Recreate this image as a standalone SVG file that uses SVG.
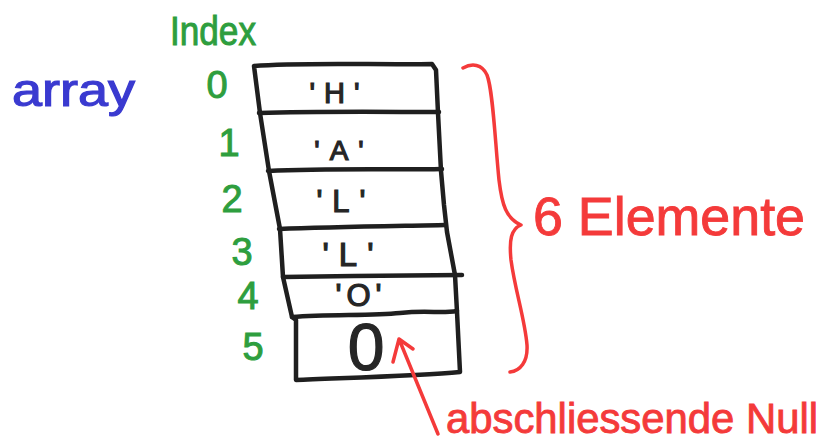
<svg xmlns="http://www.w3.org/2000/svg" width="829" height="448" viewBox="0 0 829 448">
  <style>
    .frame { fill: none; stroke: #1f1f1f; stroke-width: 4.5; stroke-linecap: round; stroke-linejoin: round; }
    .cell  { font-family: "Liberation Sans", "DejaVu Sans", sans-serif; fill: #262626; stroke: #262626; stroke-width: 1.2; text-anchor: middle; }
    .idx   { font-family: "Liberation Sans", "DejaVu Sans", sans-serif; fill: #2e9e3e; stroke: #2e9e3e; stroke-width: 1; font-size: 38px; text-anchor: middle; }
    .red   { fill: none; stroke: #f43a3a; stroke-width: 3.5; stroke-linecap: round; stroke-linejoin: round; }
    .redtxt { font-family: "Liberation Sans", "DejaVu Sans", sans-serif; fill: #f43a3a; stroke: #f43a3a; stroke-width: 0.9; }
  </style>

  <rect width="829" height="448" fill="#ffffff"/>

  <!-- label of the whole array -->
  <g id="array-label">
    <text x="12" y="106" font-family="Liberation Sans, DejaVu Sans, sans-serif" font-size="46" fill="#3a3ad0" stroke="#3a3ad0" stroke-width="1.2" textLength="123" lengthAdjust="spacingAndGlyphs">array</text>
  </g>

  <!-- index column -->
  <g id="index-label">
    <text x="170" y="45" font-family="Liberation Sans, DejaVu Sans, sans-serif" font-size="40" fill="#2e9e3e" stroke="#2e9e3e" stroke-width="1" textLength="86" lengthAdjust="spacingAndGlyphs">Index</text>
  </g>
  <g id="index-numbers">
    <text class="idx" x="217" y="98">0</text>
    <text class="idx" x="229" y="156">1</text>
    <text class="idx" x="232" y="212">2</text>
    <text class="idx" x="242" y="265">3</text>
    <text class="idx" x="248" y="309">4</text>
    <text class="idx" x="253" y="360">5</text>
  </g>

  <!-- outer frame of the array -->
  <g id="array-frame">
    <path class="frame" d="M254,66 C300,62 380,65 432,64 L436,70 L438,113 L441,171 L444,205 L447,232 L455,275 L457,312 L460,372 C420,376 340,378 296,380 L296,320 L292,317 L283,277 L280,229 L269,171 L260,113 Z"/>
  </g>

  <!-- cells -->
  <g id="cell-0">
    <text class="cell" x="339" y="103" font-size="29" letter-spacing="9">'H'</text>
  </g>
  <g id="cell-1">
    <path class="frame" d="M259,113 C320,111 390,112 439,112"/>
    <text class="cell" x="344" y="160" font-size="28" letter-spacing="10">'A'</text>
  </g>
  <g id="cell-2">
    <path class="frame" d="M268,171 C330,168 395,170 442,169"/>
    <text class="cell" x="346" y="212" font-size="31" letter-spacing="10">'L'</text>
  </g>
  <g id="cell-3">
    <path class="frame" d="M279,229 C330,227 400,226 445,225"/>
    <text class="cell" x="353" y="266" font-size="33" letter-spacing="10">'L'</text>
  </g>
  <g id="cell-4">
    <path class="frame" d="M283,277 C340,276 420,275 462,275"/>
    <text class="cell" x="361" y="306" font-size="31" letter-spacing="5">'O'</text>
  </g>
  <g id="cell-5">
    <path class="frame" d="M292,317 C330,314 370,316 400,313 C430,310 440,314 457,311"/>
    <text class="cell" x="366" y="370" font-size="66" stroke-width="1.5">0</text>
  </g>

  <!-- annotations -->
  <g id="brace-elements">
    <path class="red" d="M463,68 C472,63 482,64 487,75 C493,90 495,140 499,180 C502,205 506,218 521,225 C511,229 509,240 511,260 C515,290 525,320 527,345 C528,362 520,371 510,372"/>
    <text class="redtxt" x="533" y="235" font-size="53" textLength="272" lengthAdjust="spacingAndGlyphs">6 Elemente</text>
  </g>

  <g id="connectors">
    <path class="red" d="M438,434 L399,339 M393,362 L399,339 L413,349"/>
  </g>

  <g id="null-label">
    <text class="redtxt" x="446" y="433" font-size="42" textLength="372" lengthAdjust="spacingAndGlyphs">abschliessende Null</text>
  </g>
</svg>
